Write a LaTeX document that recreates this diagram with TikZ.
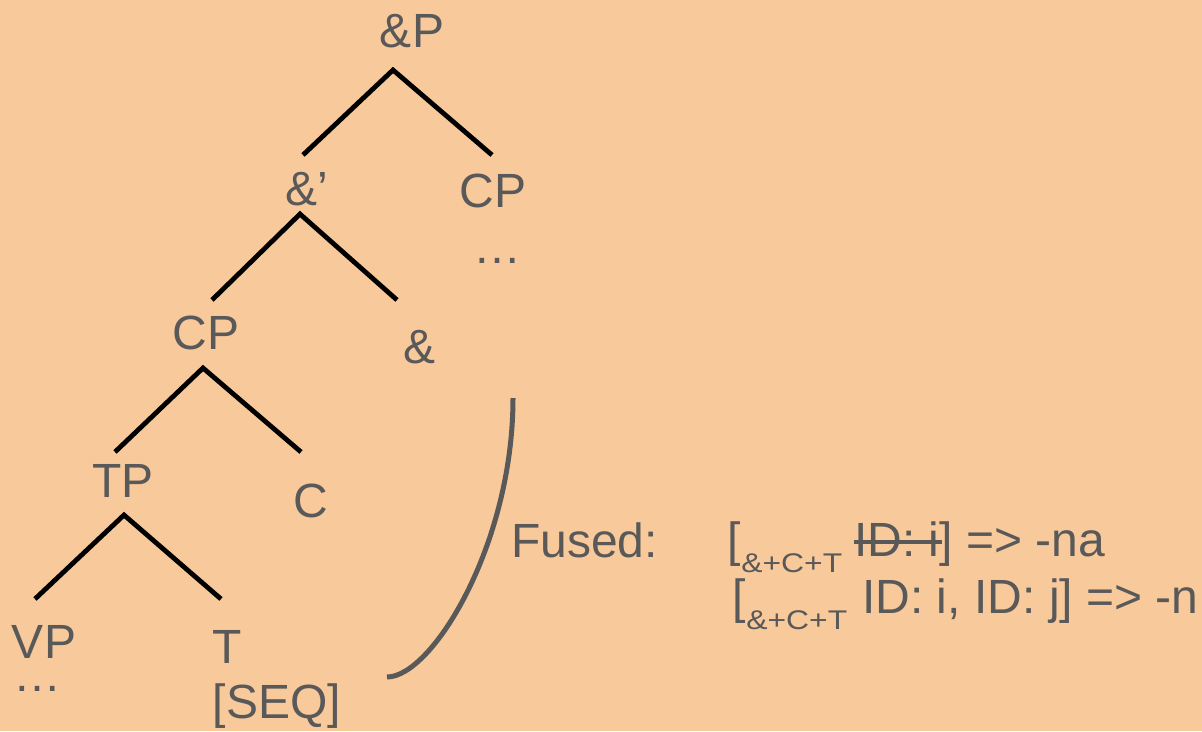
\documentclass[tikz,border=0pt]{standalone}
\usepackage{fontspec}
\setmainfont{Liberation Sans}
\usetikzlibrary{calc}
\definecolor{bgorange}{RGB}{248,201,155}
\definecolor{inkgray}{RGB}{89,89,89}
\begin{document}
\begin{tikzpicture}[x=1pt,y=-1pt,
  lbl/.style={inner sep=0pt,outer sep=0pt,anchor=base,text=inkgray,
              font=\fontsize{48}{58}\selectfont},
  lblw/.style={lbl,anchor=base west},
  subl/.style={inner sep=0pt,outer sep=0pt,anchor=base west,text=inkgray,
               font=\fontsize{27}{32}\selectfont},
  branch/.style={draw=black,line width=4.8pt,line join=miter},
  strike/.style={draw=inkgray,line width=3.5pt},
  fusion/.style={draw=inkgray,line width=5pt}]
% canvas
\path[use as bounding box,fill=bgorange] (0,0) rectangle (1202,731);

% ---- tree labels ----
\node[lbl] (andP)  at (412,47)  {\&P};
\node[lbl] (andB)  at (307,205) {\&’};
\node[lbl] (cpR)   at (493,207) {CP};
\node[lbl] (dotsR) at (497,263) {…};
\node[lbl] (cpL)   at (206,349) {CP};
\node[lbl] (amp)   at (420,363) {\&};
\node[lbl] (tp)    at (123,497) {TP};
\node[lbl] (c)     at (311,517) {C};
\node[lbl] (vp)    at (44,658)  {VP};
\node[lbl] (dotsL) at (37,691)  {…};
\node[lbl] (t)     at (227,663) {T};
\node[lbl] (seq)   at (277,718) {[SEQ]};

% ---- branch points ----
\coordinate (a1) at (393,70);  \coordinate (a1l) at (303,155); \coordinate (a1r) at (492,155);
\coordinate (a2) at (300,214); \coordinate (a2l) at (212,300); \coordinate (a2r) at (397,300);
\coordinate (a3) at (203,368); \coordinate (a3l) at (115,452); \coordinate (a3r) at (301,452);
\coordinate (a4) at (124,515); \coordinate (a4l) at (35,599);  \coordinate (a4r) at (221,599);

\draw[branch] (a1l) -- (a1) -- (a1r);
\draw[branch] (a2l) -- (a2) -- (a2r);
\draw[branch] (a3l) -- (a3) -- (a3r);
\draw[branch] (a4l) -- (a4) -- (a4r);

% ---- fusion bracket ----
\coordinate (fTop) at (513,398);
\coordinate (fBot) at (387,677);
\draw[fusion] (fTop) .. controls (513,545) and (432,677) .. (fBot);

% ---- fusion rules ----
\node[lblw] (fused) at (511,557) {Fused:};

\node[lblw] (br1) at (727,556) {[};
\node[subl] (sub1) at ($(br1.base east)+(1,16)$) {\scalebox{1.18}[1]{\&+C+T}};
\node[lblw] (id1) at ($(br1.base east)+(114,0)$) {ID: i};
\node[lblw] (rest1) at (id1.base east) {] => -na};
\draw[strike] ($(id1.base west)+(0,-14)$) -- ($(id1.base east)+(2,-14)$);

\node[lblw] (br2) at (732,613) {[};
\node[subl] (sub2) at ($(br2.base east)+(1,16)$) {\scalebox{1.18}[1]{\&+C+T}};
\node[lblw] (id2) at ($(br2.base east)+(117,0)$) {ID: i, ID: j] => -n};
\end{tikzpicture}
\end{document}
